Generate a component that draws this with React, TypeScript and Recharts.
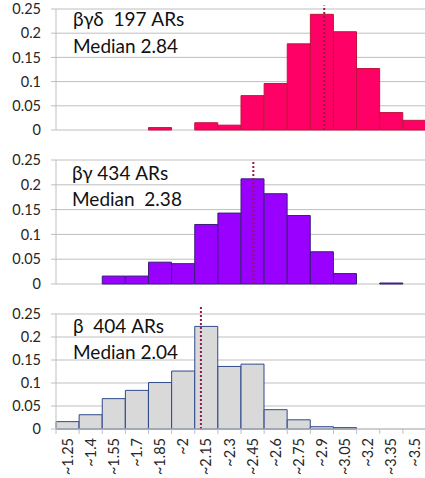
import { BarChart, Bar, XAxis, YAxis, CartesianGrid, ReferenceLine } from 'recharts'

// Shared bins (upper edge of each 0.15-wide bin)
const bins = [
  '~1.25', '~1.4', '~1.55', '~1.7', '~1.85', '~2', '~2.15', '~2.3',
  '~2.45', '~2.6', '~2.75', '~2.9', '~3.05', '~3.2', '~3.35', '~3.5',
]

// Fraction of ARs per bin
const shareBGD = [0, 0, 0, 0, 0.005, 0, 0.015, 0.01, 0.071, 0.096, 0.178, 0.239, 0.203, 0.127, 0.036, 0.02]
const shareBG = [0, 0, 0.016, 0.016, 0.044, 0.041, 0.12, 0.143, 0.212, 0.182, 0.138, 0.065, 0.021, 0, 0.002, 0]
const shareB = [0.016, 0.031, 0.066, 0.084, 0.101, 0.126, 0.223, 0.136, 0.141, 0.042, 0.02, 0.005, 0.003, 0, 0, 0]

const groups = ['βγδ', 'βγ', 'β']
const counts = [197, 434, 404]
const medians = [2.84, 2.38, 2.04]

const yTicks = [0, 0.05, 0.1, 0.15, 0.2, 0.25]

// bins are (label - 0.15, label], so the value scale spans 1.1 .. 3.5
const valueDomain: [number, number] = [1.1, 3.5]

const FONT = 'Lato, "Open Sans", sans-serif'
const TEXT = '#262626'
const GRID = '#BFBFBF'
const MEDIAN = '#96174A'

function BinTick(props: any) {
  const { x, y, payload } = props
  const half = payload?.offset ?? 11.5
  const ty = y + 9
  return (
    <g>
      <line x1={x - half} x2={x - half} y1={y} y2={y + 5} stroke={GRID} />
      <text
        x={x}
        y={ty}
        dy="0.35em"
        transform={`rotate(-90 ${x} ${ty})`}
        textAnchor="end"
        fill={TEXT}
        fontSize={14.5}
        fontFamily={FONT}
      >
        {payload.value}
      </text>
    </g>
  )
}

interface PanelProps {
  values: number[]
  median: number
  fill: string
  stroke: string
  top: number
  height: number
  marginTop: number
  marginBottom: number
  lineTop: number
  showBins?: boolean
}

function Panel({ values, median, fill, stroke, top, height, marginTop, marginBottom, lineTop, showBins }: PanelProps) {
  const rows = bins.map((bin, i) => ({ bin, upper: parseFloat(bin.slice(1)), share: values[i] }))
  return (
    <div style={{ position: 'absolute', left: 0, top, width: 426, height }}>
      <BarChart
        width={426}
        height={height}
        data={rows}
        barCategoryGap={0}
        barGap={0}
        margin={{ top: marginTop, right: 0, bottom: marginBottom, left: 8 }}
      >
        <CartesianGrid vertical={false} stroke={GRID} />
        <XAxis
          dataKey="bin"
          hide={!showBins}
          interval={0}
          height={49}
          tickSize={0}
          tickMargin={0}
          tickLine={false}
          axisLine={{ stroke: GRID }}
          tick={<BinTick />}
        />
        <XAxis
          xAxisId="val"
          dataKey="upper"
          type="number"
          domain={valueDomain}
          allowDataOverflow
          hide
        />
        <YAxis
          domain={[0, 0.25]}
          ticks={yTicks}
          interval={0}
          width={48}
          tickSize={5}
          tickMargin={10}
          axisLine={{ stroke: GRID }}
          tickLine={{ stroke: GRID }}
          tick={{ fill: TEXT, fontSize: 14.5, fontFamily: FONT }}
        />
        <Bar dataKey="share" fill={fill} stroke={stroke} strokeWidth={1} isAnimationActive={false} />
        {/* median marker */}
        <ReferenceLine
          xAxisId="val"
          segment={[{ x: median, y: 0 }, { x: median, y: lineTop }]}
          stroke={MEDIAN}
          strokeWidth={2}
          strokeDasharray="2 2"
          ifOverflow="visible"
        />
      </BarChart>
    </div>
  )
}

export default function App() {
  const labelStyle = { fontFamily: FONT, fontSize: 19, fill: '#111', whiteSpace: 'pre' as const }
  return (
    <div
      style={{
        position: 'absolute',
        left: 0,
        top: 0,
        width: 425,
        height: 478,
        overflow: 'hidden',
        background: '#fff',
      }}
    >
      <Panel values={shareBGD} median={medians[0]} fill="#FF0066" stroke="#C0143C"
        top={0} height={142} marginTop={9} marginBottom={12} lineTop={0.257} />
      <Panel values={shareBG} median={medians[1]} fill="#9900FF" stroke="#3A1D78"
        top={140} height={156} marginTop={20} marginBottom={12} lineTop={0.25} />
      <Panel values={shareB} median={medians[2]} fill="#D9D9D9" stroke="#2F4B8A"
        top={290} height={188} marginTop={24} marginBottom={0} lineTop={0.266} showBins />

      <svg width={425} height={478} style={{ position: 'absolute', left: 0, top: 0, pointerEvents: 'none' }}>
        <text x={73} y={26} style={labelStyle}>{`${groups[0]}  ${counts[0]} ARs`}</text>
        <text x={73} y={53} style={labelStyle}>{`Median ${medians[0]}`}</text>
        <text x={72} y={180} style={labelStyle}>{`${groups[1]} ${counts[1]} ARs`}</text>
        <text x={72} y={206} style={labelStyle}>{`Median  ${medians[1]}`}</text>
        <text x={73} y={333} style={labelStyle}>{`${groups[2]}  ${counts[2]} ARs`}</text>
        <text x={73} y={359} style={labelStyle}>{`Median ${medians[2]}`}</text>
      </svg>
    </div>
  )
}
